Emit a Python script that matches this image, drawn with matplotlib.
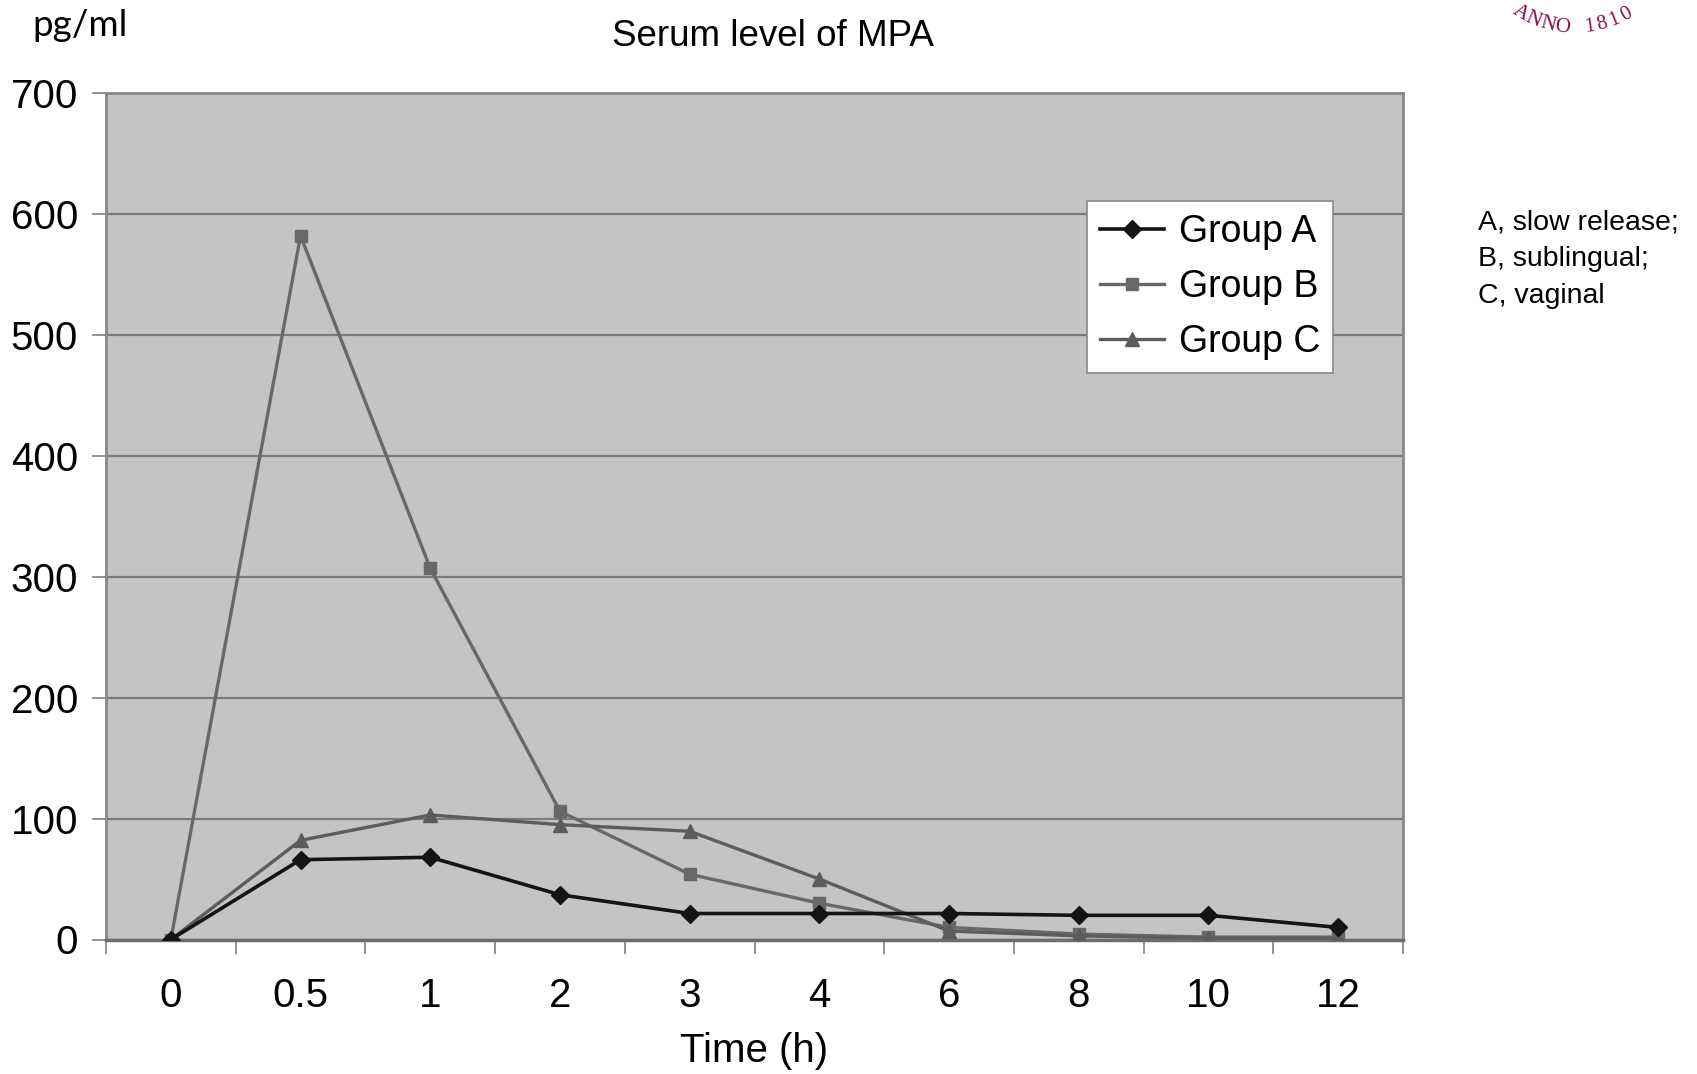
import numpy as np
import matplotlib.pyplot as plt

# data
times = ["0", "0.5", "1", "2", "3", "4", "6", "8", "10", "12"]
group_a = [0, 66, 68, 37, 21.5, 21.5, 21.5, 20, 20, 10]
group_b = [0, 582, 307, 106, 54, 30, 10, 4.5, 2, 2]
group_c = [0, 82, 103, 95, 89.5, 50, 7, 3, 1, 1]
y_ticks = [0, 100, 200, 300, 400, 500, 600, 700]
notes = ["A, slow release;", "B, sublingual;", "C, vaginal"]

plt.rcParams["font.family"] = ["Liberation Sans", "DejaVu Sans"]

W, H = 1697, 1074
fig = plt.figure(figsize=(W / 100, H / 100), dpi=100)
ax = fig.add_axes([106 / W, 1 - 939.5 / H, (1403 - 106) / W, (939.5 - 93) / H])
ax.set_facecolor("#c4c4c4")

x = np.arange(len(times))
ax.plot(x, group_a, color="#141414", lw=2.6, marker="D", ms=9, label="Group A", zorder=5)
ax.plot(x, group_b, color="#686868", lw=2.4, marker="s", ms=9, label="Group B", zorder=4)
ax.plot(x, group_c, color="#5c5c5c", lw=2.4, marker="^", ms=10, label="Group C", zorder=4)

ax.set_xlim(-0.5, len(times) - 0.5)
ax.set_ylim(0, 700)
ax.set_yticks(y_ticks)
ax.set_yticklabels([str(v) for v in y_ticks], fontsize=29)
ax.yaxis.grid(True, color="#7a7a7a", lw=1.6)
ax.set_axisbelow(True)
ax.tick_params(axis="y", length=10, width=1.2, color="#808080", pad=10)

ax.set_xticks(x)
ax.set_xticklabels(times, fontsize=29)
ax.set_xticks(np.arange(-0.5, len(times), 1), minor=True)
ax.tick_params(axis="x", which="major", length=0, pad=27)
ax.tick_params(axis="x", which="minor", length=10, width=1.2, color="#808080")
ax.set_xlabel("Time (h)", fontsize=29, labelpad=12)

for s in ax.spines.values():
    s.set_color("#888888")
    s.set_linewidth(2)
ax.spines["bottom"].set_color("#6e6e6e")
ax.spines["bottom"].set_linewidth(2.5)

leg = ax.legend(loc="upper left", bbox_to_anchor=((1087 - 106) / (1403 - 106), 1 - (201 - 93) / (939.5 - 93)),
                fontsize=27, frameon=True, fancybox=False, edgecolor="#888888",
                handlelength=1.7, handletextpad=0.4, borderpad=0.35, labelspacing=0.5, borderaxespad=0)
leg.get_frame().set_linewidth(1.2)
leg.get_frame().set_facecolor("white")
leg.get_frame().set_alpha(1)

fig.text(773 / W, 1 - 37 / H, "Serum level of MPA", fontsize=26.5, ha="center", va="center")
fig.text(32 / W, 1 - 25 / H, "pg/ml", fontsize=26.5, ha="left", va="center", family=["Lato", "DejaVu Sans"])

for i, t in enumerate(notes):
    fig.text(1478 / W, 1 - (222 + i * 37) / H, t, fontsize=20.5, ha="left", va="center")

# partial seal in the top-right corner
cx, cy, r = 1575, -78, 106
label = "ANNO 1810"
angles = [-121, -113, -105, -97, -90, -82, -75, -68, -61]
for ch, a in zip(label, angles):
    px = cx + r * np.cos(np.radians(a))
    py = cy - r * np.sin(np.radians(a))
    fig.text(px / W, 1 - py / H, ch, fontsize=15, color="#8a1050",
             family=["Liberation Serif", "DejaVu Serif"], ha="center", va="center", rotation=a + 90)

fig.savefig("out.png", dpi=100)
